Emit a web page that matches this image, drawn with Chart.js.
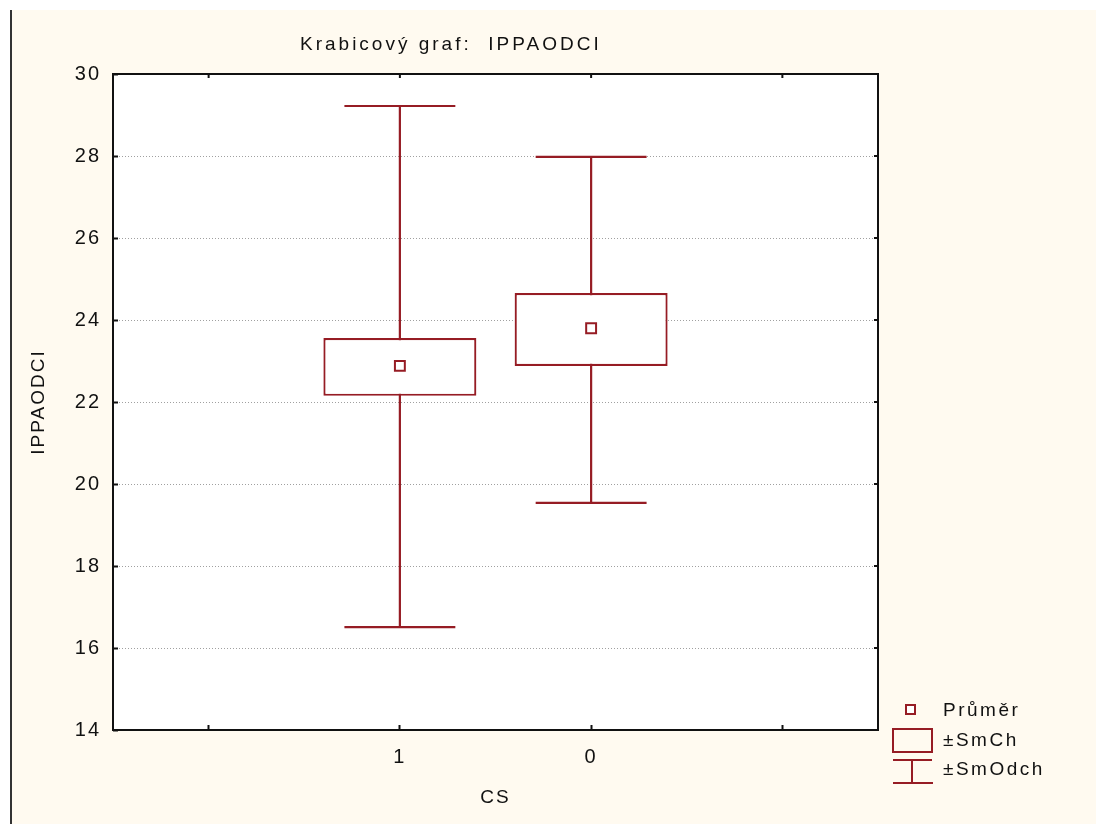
<!DOCTYPE html>
<html>
<head>
<meta charset="utf-8">
<script src="https://cdn.jsdelivr.net/npm/chart.js@4.4.1/dist/chart.umd.min.js"></script>
<style>
  html, body { margin: 0; padding: 0; background: #fff; }
  #wrap { width: 1096px; height: 824px; }
</style>
</head>
<body>
<div id="wrap"><canvas id="boxChart" width="1096" height="824"></canvas></div>
<script>
// x slots of the plot (tick labels), groups sit in the middle two
const slots = ['', '1', '0', ''];
const groups = ['1', '0'];
// statistics per group
const means = [22.88, 23.80];
const seLow = [22.15, 22.88];
const seHigh = [23.56, 24.66];
const sdLow = [16.51, 19.54];
const sdHigh = [29.22, 27.98];
const yTicks = [14, 16, 18, 20, 22, 24, 26, 28, 30];

const RED = '#961c24';
const FONT = "'Liberation Sans', Arial, sans-serif";
const CAP = 0.29; // half width of whisker caps, in slot units

const pos = groups.map(g => slots.indexOf(g) + 1);

const whiskerSets = groups.map((g, i) => ({
    type: 'scatter',
    label: 'whisker ' + g,
    showLine: true,
    spanGaps: false,
    borderColor: RED,
    borderWidth: 2.2,
    pointRadius: 0,
    order: 3,
    data: [
        { x: pos[i] - CAP, y: sdHigh[i] }, { x: pos[i] + CAP, y: sdHigh[i] },
        { x: pos[i], y: null },
        { x: pos[i], y: sdHigh[i] }, { x: pos[i], y: sdLow[i] },
        { x: pos[i], y: null },
        { x: pos[i] - CAP, y: sdLow[i] }, { x: pos[i] + CAP, y: sdLow[i] }
    ]
}));

const frame = {
    id: 'frame',
    beforeDraw(chart) {
        const { ctx, chartArea: a, width, height } = chart;
        ctx.save();
        ctx.fillStyle = '#fff';
        ctx.fillRect(0, 0, width, height);
        ctx.fillStyle = '#fffaf0';
        ctx.fillRect(10, 10, width - 10, height - 10);
        ctx.strokeStyle = '#333';
        ctx.lineWidth = 2;
        ctx.beginPath();
        ctx.moveTo(11, 10);
        ctx.lineTo(11, height);
        ctx.stroke();
        ctx.fillStyle = '#fff';
        ctx.fillRect(a.left, a.top, a.right - a.left, a.bottom - a.top);
        ctx.restore();
        ctx.letterSpacing = '2px';
    },
    afterDraw(chart) {
        const { ctx, chartArea: a, scales } = chart;
        ctx.save();
        // plot frame
        ctx.strokeStyle = '#111';
        ctx.lineWidth = 2;
        ctx.strokeRect(a.left, a.top, a.right - a.left, a.bottom - a.top);
        // ticks on the top and right edges
        ctx.beginPath();
        slots.forEach((s, i) => {
            const x = scales.x.getPixelForValue(i + 1);
            ctx.moveTo(x, a.top);
            ctx.lineTo(x, a.top + 4);
        });
        yTicks.forEach(v => {
            const y = scales.y.getPixelForValue(v);
            ctx.moveTo(a.right, y);
            ctx.lineTo(a.right - 4, y);
        });
        ctx.stroke();

        // title
        ctx.letterSpacing = '3px';
        ctx.fillStyle = '#111';
        ctx.font = '19px ' + FONT;
        ctx.textBaseline = 'middle';
        ctx.textAlign = 'left';
        ctx.fillText('Krabicový graf:  IPPAODCI', 300, 45);

        // legend
        ctx.letterSpacing = '2.5px';
        ctx.strokeStyle = RED;
        ctx.lineWidth = 2;
        ctx.fillStyle = '#fff';
        ctx.fillRect(906, 705, 9, 9);
        ctx.strokeRect(906, 705, 9, 9);
        ctx.strokeRect(893, 729, 39, 23);
        ctx.beginPath();
        ctx.moveTo(893, 760); ctx.lineTo(932, 760);
        ctx.moveTo(912, 760); ctx.lineTo(912, 783);
        ctx.moveTo(893, 783); ctx.lineTo(933, 783);
        ctx.stroke();
        ctx.fillStyle = '#111';
        ctx.fillText('Průměr', 943, 711);
        ctx.fillText('±SmCh', 943, 741);
        ctx.fillText('±SmOdch', 943, 770);
        ctx.restore();
    }
};

const ctx = document.getElementById('boxChart').getContext('2d');
Chart.defaults.color = '#111';
Chart.defaults.font.family = FONT;

new Chart(ctx, {
    type: 'bar',
    data: {
        datasets: [
            {
                type: 'scatter',
                label: 'Průměr',
                data: means.map((m, i) => ({ x: pos[i], y: m })),
                pointStyle: 'rect',
                pointRadius: 7,
                pointHoverRadius: 7,
                borderWidth: 2,
                borderColor: RED,
                backgroundColor: '#fff',
                order: 1
            },
            {
                type: 'bar',
                label: '±SmCh',
                data: groups.map((g, i) => ({ x: pos[i], y: [seLow[i], seHigh[i]] })),
                backgroundColor: '#fff',
                borderColor: RED,
                borderWidth: 2.2,
                borderSkipped: false,
                barPercentage: 0.8,
                categoryPercentage: 1,
                order: 2
            },
            ...whiskerSets
        ]
    },
    options: {
        responsive: false,
        animation: false,
        layout: { padding: { top: 74, right: 218, left: 0, bottom: 0 } },
        plugins: {
            legend: { display: false },
            tooltip: { enabled: false },
            title: { display: false }
        },
        scales: {
            x: {
                type: 'linear',
                min: 0.5,
                max: 4.5,
                offset: false,
                afterFit: s => { s.height = 94; },
                afterBuildTicks: s => { s.ticks = slots.map((l, i) => ({ value: i + 1 })); },
                ticks: {
                    callback: v => slots[v - 1],
                    font: { size: 20 },
                    padding: 20,
                    maxRotation: 0,
                    autoSkip: false
                },
                grid: {
                    offset: false,
                    drawOnChartArea: false,
                    tickLength: -5,
                    tickColor: '#111',
                    tickWidth: 2
                },
                border: { display: false },
                title: {
                    display: true,
                    text: 'CS',
                    font: { size: 19 },
                    padding: { bottom: 15 }
                }
            },
            y: {
                min: 14,
                max: 30,
                afterFit: s => { s.width = 113; },
                afterBuildTicks: s => { s.ticks = yTicks.map(v => ({ value: v })); },
                ticks: {
                    font: { size: 20 },
                    padding: 17
                },
                grid: {
                    color: '#a0a0a0',
                    lineWidth: 1,
                    tickLength: -5,
                    tickColor: '#111',
                    tickWidth: 2,
                    tickBorderDash: []
                },
                border: { display: false, dash: [1, 2] },
                title: {
                    display: true,
                    text: 'IPPAODCI',
                    font: { size: 19 },
                    padding: { top: 27 }
                }
            }
        }
    },
    plugins: [frame]
});
</script>
</body>
</html>
